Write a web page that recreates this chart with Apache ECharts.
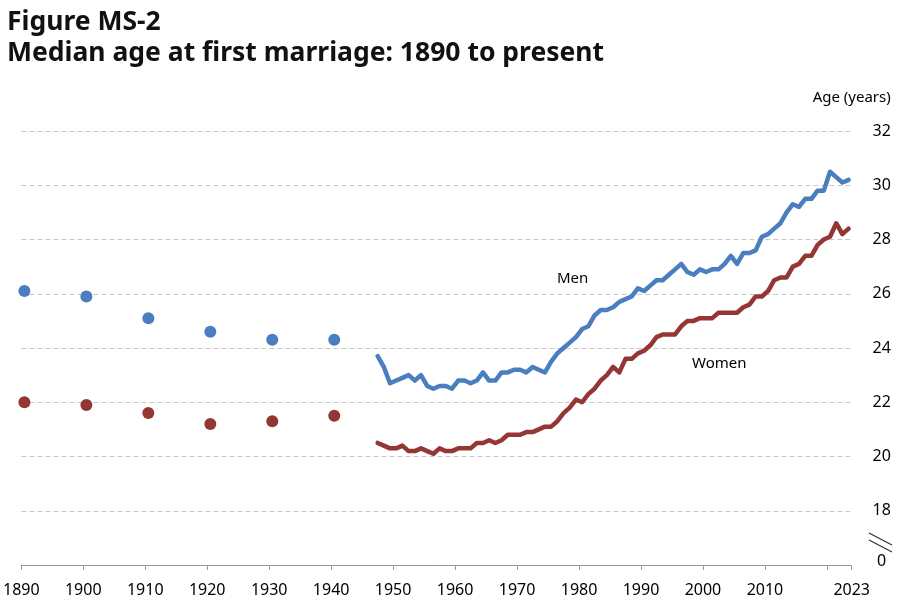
<!DOCTYPE html>
<html>
<head>
<meta charset="utf-8">
<script src="https://cdn.jsdelivr.net/npm/echarts@6/dist/echarts.min.js"></script>
<style>
html,body{margin:0;padding:0;background:#fff;}
#chart{width:900px;height:603px;}
</style>
</head>
<body>
<div id="chart"></div>
<script>
// Decennial census estimates (dots)
const censusYears = [1890, 1900, 1910, 1920, 1930, 1940];
const censusMen   = [26.1, 25.9, 25.1, 24.6, 24.3, 24.3];
const censusWomen = [22.0, 21.9, 21.6, 21.2, 21.3, 21.5];

// Annual CPS estimates (lines), 1947-2023
const annualYears = [];
for (let y = 1947; y <= 2023; y++) annualYears.push(y);
const annualMen = [
  23.7, 23.3, 22.7, 22.8, 22.9, 23.0, 22.8, 23.0, 22.6, 22.5,
  22.6, 22.6, 22.5, 22.8, 22.8, 22.7, 22.8, 23.1, 22.8, 22.8,
  23.1, 23.1, 23.2, 23.2, 23.1, 23.3, 23.2, 23.1, 23.5, 23.8,
  24.0, 24.2, 24.4, 24.7, 24.8, 25.2, 25.4, 25.4, 25.5, 25.7,
  25.8, 25.9, 26.2, 26.1, 26.3, 26.5, 26.5, 26.7, 26.9, 27.1,
  26.8, 26.7, 26.9, 26.8, 26.9, 26.9, 27.1, 27.4, 27.1, 27.5,
  27.5, 27.6, 28.1, 28.2, 28.4, 28.6, 29.0, 29.3, 29.2, 29.5,
  29.5, 29.8, 29.8, 30.5, 30.3, 30.1, 30.2
];
const annualWomen = [
  20.5, 20.4, 20.3, 20.3, 20.4, 20.2, 20.2, 20.3, 20.2, 20.1,
  20.3, 20.2, 20.2, 20.3, 20.3, 20.3, 20.5, 20.5, 20.6, 20.5,
  20.6, 20.8, 20.8, 20.8, 20.9, 20.9, 21.0, 21.1, 21.1, 21.3,
  21.6, 21.8, 22.1, 22.0, 22.3, 22.5, 22.8, 23.0, 23.3, 23.1,
  23.6, 23.6, 23.8, 23.9, 24.1, 24.4, 24.5, 24.5, 24.5, 24.8,
  25.0, 25.0, 25.1, 25.1, 25.1, 25.3, 25.3, 25.3, 25.3, 25.5,
  25.6, 25.9, 25.9, 26.1, 26.5, 26.6, 26.6, 27.0, 27.1, 27.4,
  27.4, 27.8, 28.0, 28.1, 28.6, 28.2, 28.4
];

const xTickLabels = ['1890','1900','1910','1920','1930','1940','1950','1960','1970','1980','1990','2000','2010','2023'];
const yTickLabels = ['0','18','20','22','24','26','28','30','32'];

const BLUE = '#4a7ebf';
const RED = '#943634';
const FONT = '"Noto Sans", sans-serif';

// values are plotted at mid-year
const pairs = (xs, ys) => xs.map((x, i) => [x + 0.5, ys[i]]);

const chart = echarts.init(document.getElementById('chart'), null, {renderer: 'canvas'});
chart.setOption({
  animation: false,
  backgroundColor: '#fff',
  title: {
    text: 'Figure MS-2\nMedian age at first marriage: 1890 to present',
    left: 2, top: 2,
    textStyle: {fontFamily: FONT, fontSize: 26.5, fontWeight: 'bold', color: '#111', lineHeight: 31}
  },
  grid: {left: 20.7, right: 48.3, top: 131, bottom: 38, containLabel: false},
  xAxis: {
    type: 'value', min: 1890, max: 2024, interval: 10,
    axisLine: {show: true, lineStyle: {color: '#999', width: 1}},
    axisTick: {show: true, length: 5, lineStyle: {color: '#999'}},
    splitLine: {show: false},
    axisLabel: {
      fontFamily: FONT, fontSize: 16, color: '#000', margin: 17,
      showMaxLabel: true, showMinLabel: true,
      formatter: v => {
        if (v === 2024) return xTickLabels[xTickLabels.length - 1];
        const s = String(v);
        return xTickLabels.indexOf(s) >= 0 ? s : '';
      }
    }
  },
  yAxis: {
    type: 'value', position: 'right', min: 16, max: 32, interval: 2,
    name: 'Age (years)', nameLocation: 'end', nameGap: 26,
    nameTextStyle: {fontFamily: FONT, fontSize: 15, color: '#000', align: 'center'},
    axisLine: {show: false}, axisTick: {show: false},
    splitLine: {show: true, lineStyle: {color: '#c8c8c8', type: [5, 3], width: 1}},
    axisLabel: {
      fontFamily: FONT, fontSize: 16, color: '#000', margin: 30, align: 'center',
      formatter: v => v === 16 ? '{z|' + yTickLabels[0] + '}' : String(v),
      rich: {z: {fontFamily: FONT, fontSize: 16, color: '#000', padding: [0, 0, 8, 0]}}
    }
  },
  series: [
    {name: 'Men (census)', type: 'scatter', data: pairs(censusYears, censusMen),
     symbolSize: 12, itemStyle: {color: BLUE, opacity: 1}},
    {name: 'Women (census)', type: 'scatter', data: pairs(censusYears, censusWomen),
     symbolSize: 12, itemStyle: {color: RED, opacity: 1}},
    {name: 'Men', type: 'line', data: pairs(annualYears, annualMen), showSymbol: false,
     lineStyle: {color: BLUE, width: 4.5, join: 'round', cap: 'round'}, itemStyle: {color: BLUE}},
    {name: 'Women', type: 'line', data: pairs(annualYears, annualWomen), showSymbol: false,
     lineStyle: {color: RED, width: 4.5, join: 'round', cap: 'round'}, itemStyle: {color: RED}}
  ],
  graphic: [
    {type: 'text', left: 557, top: 271, style: {text: 'Men', font: '15px "Noto Sans", sans-serif', fill: '#000'}},
    {type: 'text', left: 692, top: 356, style: {text: 'Women', font: '15px "Noto Sans", sans-serif', fill: '#000'}},
    {type: 'line', shape: {x1: 869, y1: 533, x2: 892, y2: 545}, style: {stroke: '#333', lineWidth: 1.2}},
    {type: 'line', shape: {x1: 869, y1: 540, x2: 892, y2: 552}, style: {stroke: '#333', lineWidth: 1.2}}
  ]
});
</script>
</body>
</html>
